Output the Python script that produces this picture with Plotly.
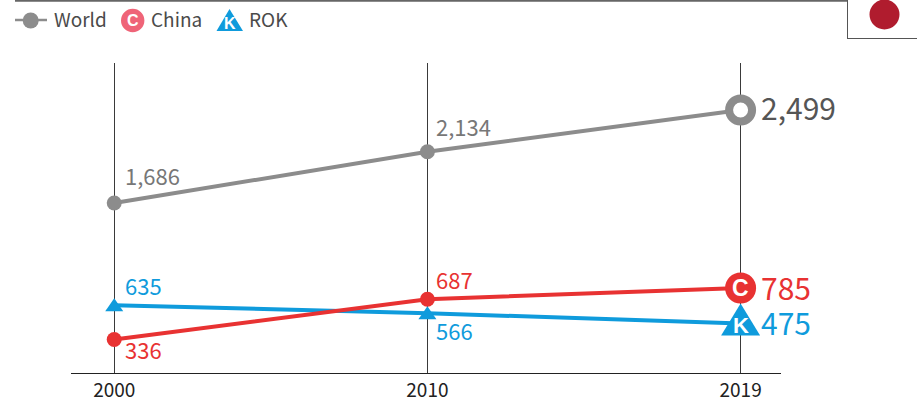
import plotly.graph_objects as go

years = ["2000", "2010", "2019"]
world = [1686, 2134, 2499]
china = [336, 687, 785]
rok = [635, 566, 475]

GRAY = "#8c8c8c"
RED = "#e83232"
BLUE = "#0f9bdc"
PINK = "#ef6478"
FONT = "Noto Sans CJK KR"
W, H = 917, 404
L, R, T, B = 71, 781, 63, 373

def px(x):
    return (x - L) / (R - L)

def py(y):
    return (B - y) / (B - T)

fig = go.Figure()

# World
fig.add_trace(go.Scatter(x=years, y=world, yaxis="y", mode="lines", line=dict(color=GRAY, width=4), hoverinfo="skip"))
fig.add_trace(go.Scatter(x=years[:2], y=world[:2], yaxis="y", mode="markers",
                         marker=dict(color=GRAY, size=15, symbol="circle"), hoverinfo="skip"))
fig.add_trace(go.Scatter(x=years[2:], y=world[2:], yaxis="y", mode="markers",
                         marker=dict(color="white", size=23, symbol="circle", line=dict(color=GRAY, width=8)),
                         hoverinfo="skip"))
# ROK
fig.add_trace(go.Scatter(x=years, y=rok, yaxis="y2", mode="lines", line=dict(color=BLUE, width=4), hoverinfo="skip"))
# China
fig.add_trace(go.Scatter(x=years, y=china, yaxis="y2", mode="lines", line=dict(color=RED, width=4), hoverinfo="skip"))
fig.add_trace(go.Scatter(x=years[:2], y=china[:2], yaxis="y2", mode="markers",
                         marker=dict(color=RED, size=15, symbol="circle"), hoverinfo="skip"))
fig.add_trace(go.Scatter(x=years[2:], y=china[2:], yaxis="y2", mode="markers",
                         marker=dict(color=RED, size=31, symbol="circle"), hoverinfo="skip"))

ann = []
def label(i, val, yref, color, size, xs, ys):
    ann.append(dict(x=i, y=val, xref="x", yref=yref, text=f"{val:,}", showarrow=False,
                    xanchor="left", yanchor="middle", xshift=xs, yshift=ys,
                    font=dict(color=color, size=size, family=FONT)))

label(0, world[0], "y", "#777777", 22, 9, 28)
label(1, world[1], "y", "#777777", 22, 7, 26)
label(2, world[2], "y", "#555555", 30, 18, 3)
label(0, rok[0], "y2", BLUE, 22, 9, 20)
label(1, rok[1], "y2", BLUE, 22, 7, -17)
label(2, rok[2], "y2", BLUE, 30, 18, 2)
label(0, china[0], "y2", RED, 22, 9, -9)
label(1, china[1], "y2", RED, 22, 7, 20)
label(2, china[2], "y2", RED, 30, 18, 1)

# White letters on the 2019 markers
ann.append(dict(x=2, y=china[2], xref="x", yref="y2", text="<b>C</b>", showarrow=False,
                xanchor="center", yanchor="middle", font=dict(color="white", size=23, family="Liberation Sans")))
ann.append(dict(x=2, y=rok[2], xref="x", yref="y2", text="<b>K</b>", showarrow=False, yshift=-2,
                xanchor="center", yanchor="middle", font=dict(color="white", size=22, family="Liberation Sans")))

def legend_text(x, text):
    ann.append(dict(x=px(x), y=py(18.5), xref="paper", yref="paper", text=text, showarrow=False,
                    xanchor="left", yanchor="middle", font=dict(color="#4a4a4a", size=19, family=FONT)))

legend_text(52, "World")
legend_text(148.5, "China")
legend_text(247, "ROK")
ann.append(dict(x=px(132.7), y=py(20.5), xref="paper", yref="paper", text="<b>C</b>", showarrow=False,
                xanchor="center", yanchor="middle", font=dict(color="white", size=16, family="Liberation Sans")))
ann.append(dict(x=px(229.5), y=py(23.5), xref="paper", yref="paper", text="<b>K</b>", showarrow=False,
                xanchor="center", yanchor="middle", font=dict(color="white", size=16, family="Liberation Sans")))

def pline(x0, y0, x1, y1, color, width):
    return dict(type="line", xref="paper", yref="paper", x0=px(x0), y0=py(y0), x1=px(x1), y1=py(y1),
                line=dict(color=color, width=width), layer="above")

def pcircle(cx, cy, r, color):
    return dict(type="circle", xref="paper", yref="paper", x0=px(cx - r), x1=px(cx + r),
                y0=py(cy + r), y1=py(cy - r), fillcolor=color, line=dict(width=0), layer="below")

def tri(i, val, half, up, down):
    # triangle marker anchored on a data point, sized in pixels
    return dict(type="path", xref="x", yref="y2", xsizemode="pixel", ysizemode="pixel",
                xanchor=i, yanchor=val, fillcolor=BLUE, line=dict(width=0), layer="above",
                path=f"M 0 {up} L {half} {-down} L {-half} {-down} Z")

shapes = [
    pline(15, 0.7, 847, 0.7, "#666666", 2),
    pline(847.5, 0, 847.5, 38.5, "#555555", 1),
    pline(847, 38.5, 917, 38.5, "#555555", 1),
    pcircle(884.5, 14.5, 15, "#b01c2e"),
    pline(15, 20, 47, 20, GRAY, 2.5),
    pcircle(30.7, 20.5, 8, GRAY),
    pcircle(132.7, 20.5, 11.7, PINK),
    dict(type="path", xref="paper", yref="paper", fillcolor=BLUE, line=dict(width=0), layer="below",
         path=f"M {px(229.5)} {py(9)} L {px(243)} {py(31)} L {px(216.5)} {py(31)} Z"),
    tri(0, rok[0], 9, 7, 6),
    tri(1, rok[1], 9, 7, 6),
    tri(2, rok[2], 19.5, 20, 12),
]

fig.update_layout(
    width=W, height=H, autosize=False,
    paper_bgcolor="white", plot_bgcolor="white", showlegend=False,
    margin=dict(l=L, r=W - R, t=T, b=H - B, pad=0, autoexpand=False),
    annotations=ann, shapes=shapes,
    xaxis=dict(type="category", categoryorder="array", categoryarray=years, automargin=False,
               range=[-0.138, 2.129], showgrid=True, gridcolor="#3a3a3a", gridwidth=1,
               showline=True, linecolor="#222222", linewidth=1, ticks="", zeroline=False,
               tickfont=dict(size=19, color="#222222", family=FONT)),
    yaxis=dict(range=[202, 2909], visible=False, showgrid=False, zeroline=False, automargin=False),
    yaxis2=dict(range=[44, 2747], overlaying="y", visible=False, showgrid=False, zeroline=False, automargin=False),
)

fig.write_html("out.html", config=dict(displayModeBar=False),
               post_script="document.body.style.margin='0';document.documentElement.style.overflow='hidden';")
